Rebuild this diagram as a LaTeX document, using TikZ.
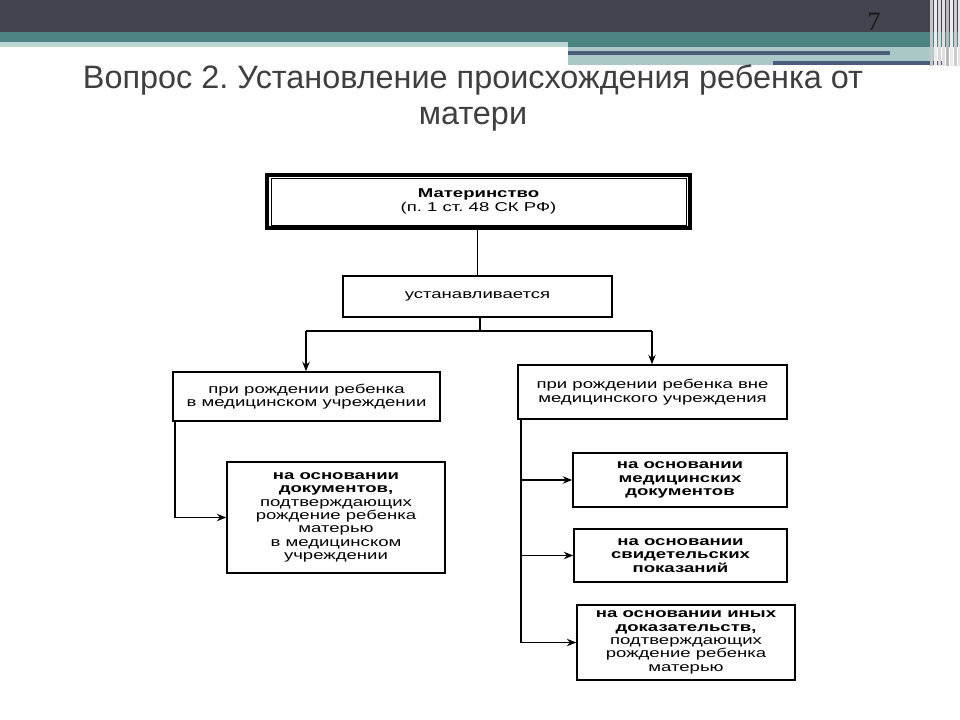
\documentclass[tikz,border=0pt]{standalone}
\usepackage{fontspec}
\setmainfont{Liberation Sans}
\newfontfamily\dg[FakeStretch=1.45]{Liberation Sans}
\newfontfamily\pgnum{Liberation Serif}
\usetikzlibrary{arrows.meta}
\definecolor{hdr}{HTML}{43444F}
\definecolor{tealb}{HTML}{4C8583}
\definecolor{ltteal}{HTML}{BCD6D4}
\definecolor{paleb}{HTML}{A9C8C6}
\definecolor{strp}{HTML}{4D5B7C}
\definecolor{ttl}{HTML}{3F3F3F}
\frenchspacing
\begin{document}
\begin{tikzpicture}[x=0.75pt,y=-0.75pt,
  bx/.style={draw, line width=1.2pt, inner sep=0pt, align=center,
    font=\dg\fontsize{9.6}{10}\selectfont},
  ln/.style={line width=1.2pt},
  ar/.style={ln, -{Stealth[length=7pt,width=5.5pt]}},
  ttlstyle/.style={font=\fontsize{24.3}{28}\selectfont, text=ttl, inner sep=0pt, anchor=base}]
\useasboundingbox (0,0) rectangle (960,720);
\fill[white] (0,0) rectangle (960,720);
% header
\fill[hdr] (0,0) rectangle (960,32);
\fill[tealb] (0,32) rectangle (960,42);
\fill[tealb] (568,42) rectangle (960,47);
\fill[ltteal] (0,42) rectangle (568,47);
\fill[paleb] (568,47) rectangle (935,65);
\draw[strp, line width=2.4pt] (568,53) -- (890,53);
\draw[strp, line width=2.4pt] (773,63) -- (942,63);
\foreach \x/\c in {930/gray!45,934/white!85!gray,938/gray!30,942/white!75!gray,946/gray!55,950/white!85!gray,954/gray!40,958/white!80!gray}
  \fill[\c] (\x,0) rectangle ++(3,66);
\node[font=\pgnum\fontsize{20}{20}\selectfont, text=black!90, inner sep=0pt] (pn) at (874,22) {7};
% title
\node[ttlstyle] (t1) at (473,89) {Вопрос 2. Установление происхождения ребенка от};
\node[ttlstyle] (t2) at (473,125) {матери};
% boxes
\node[bx, line width=2.4pt, minimum width=317.25pt, minimum height=39.75pt] (b1) at (478.5,201.5)
  {\textbf{Материнство}\\(п. 1 ст. 48 СК РФ)};
\draw[line width=0.9pt] ([shift={(6,5)}]b1.north west) rectangle ([shift={(-5,-4)}]b1.south east);
\node[bx, minimum width=201.75pt, minimum height=30.75pt] (b2) at (477.5,296.5) {устанавливается};
\node[bx, minimum width=200.25pt, minimum height=36.75pt] (l1) at (306.5,396.5)
  {при рождении ребенка\\в медицинском учреждении};
\node[bx, minimum width=163.5pt, minimum height=83.25pt] (l2) at (336,517.5)
  {\textbf{на основании}\\\textbf{документов,}\\подтверждающих\\рождение ребенка\\матерью\\в медицинском\\учреждении};
\node[bx, minimum width=201.75pt, minimum height=40.5pt] (r1) at (652.5,392)
  {при рождении ребенка вне\\медицинского учреждения};
\node[bx, minimum width=160.5pt, minimum height=40.5pt] (r2) at (680,480)
  {\textbf{на основании}\\\textbf{медицинских}\\\textbf{документов}};
\node[bx, minimum width=159.75pt, minimum height=39.75pt] (r3) at (680.5,555.5)
  {\textbf{на основании}\\\textbf{свидетельских}\\\textbf{показаний}};
\node[bx, minimum width=163.5pt, minimum height=56.25pt] (r4) at (686,642.5)
  {\textbf{на основании иных}\\\textbf{доказательств,}\\подтверждающих\\рождение ребенка\\матерью};
% connectors
\coordinate (j) at (480,331);
\coordinate (jl) at (306,331);
\coordinate (jr) at (652,331);
\draw[ln] (b2.north |- b1.south) -- (b2.north);
\draw[ln] (j |- b2.south) -- (j);
\draw[ln] (jl) -- (jr);
\draw[ar] (jl) -- (jl |- l1.north);
\draw[ar] (jr) -- (jr |- r1.north);
\coordinate (lv) at (175,421);
\draw[ar] (lv) |- (l2.west);
\coordinate (rv) at (521,419);
\draw[ln] (rv) -- (rv |- r4.west);
\draw[ar] (rv |- r2.west) -- (r2.west);
\draw[ar] (rv |- r3.west) -- (r3.west);
\draw[ar] (rv |- r4.west) -- (r4.west);
\end{tikzpicture}
\end{document}
